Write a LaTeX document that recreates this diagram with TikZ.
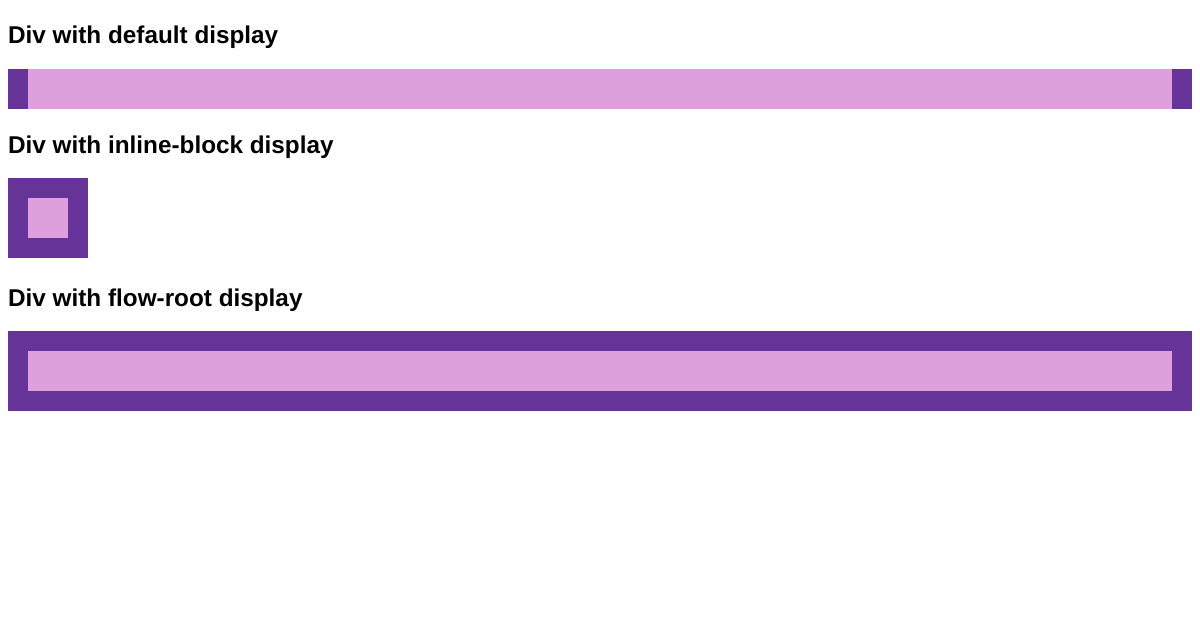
\documentclass[tikz,border=0pt]{standalone}
\usepackage{fontspec}
\setmainfont{Liberation Sans}
\usetikzlibrary{positioning}
\definecolor{boxpurple}{HTML}{663399}
\definecolor{boxplum}{HTML}{DDA0DD}
\begin{document}
\begin{tikzpicture}[x = 1pt, y = -1pt, font = \fontsize{24.3}{28}\selectfont\bfseries]
    \tikzset{
      heading/.style = {anchor = base west, inner sep = 0pt},
      outerbox/.style = {fill = boxpurple},
      innerbox/.style = {fill = boxplum},
    }
    \useasboundingbox (0, 0) rectangle (1200, 630);

    % default display
    \node [heading] (head0) at (8, 43) {Div with default display};
    \fill [outerbox] (8, 69) rectangle (1192, 109);
    \fill [innerbox] (28, 69) rectangle (1172, 109);

    % inline-block display
    \node [heading] (head1) at (8, 153) {Div with inline-block display};
    \fill [outerbox] (8, 178) rectangle (88, 258);
    \fill [innerbox] (28, 198) rectangle (68, 238);

    % flow-root display
    \node [heading] (head2) at (8, 306) {Div with flow-root display};
    \fill [outerbox] (8, 331) rectangle (1192, 411);
    \fill [innerbox] (28, 351) rectangle (1172, 391);
  \end{tikzpicture}
\end{document}
